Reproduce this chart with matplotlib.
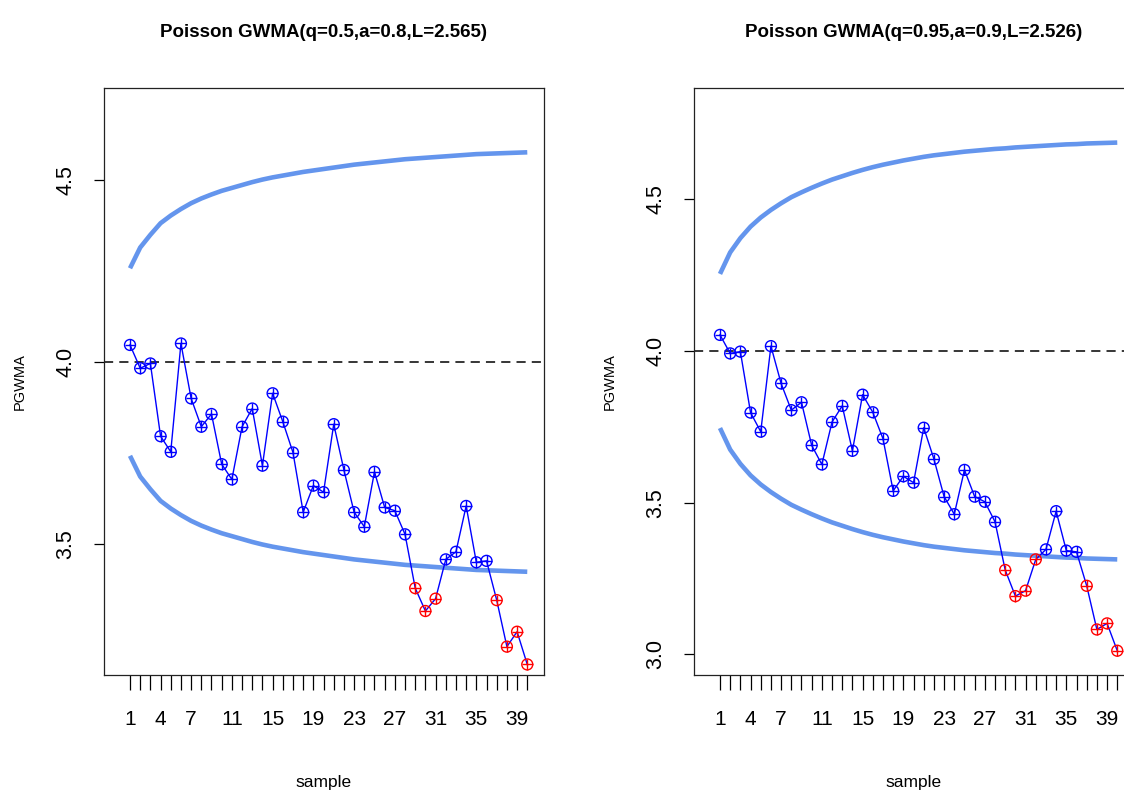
import matplotlib
matplotlib.use("Agg")
import matplotlib.pyplot as plt

plt.rcParams["font.family"] = ["Liberation Sans", "DejaVu Sans"]

# data
samples = list(range(1, 41))
shown_ticks = [1, 4, 7, 11, 15, 19, 23, 27, 31, 35, 39]
center = 4.0

left_title = "Poisson GWMA(q=0.5,a=0.8,L=2.565)"
left_vals = [4.047, 3.983, 3.996, 3.796, 3.753, 4.051, 3.900, 3.822, 3.857, 3.719,
             3.677, 3.822, 3.872, 3.715, 3.914, 3.836, 3.751, 3.587, 3.660, 3.642,
             3.829, 3.703, 3.587, 3.547, 3.698, 3.600, 3.591, 3.526, 3.378, 3.315,
             3.349, 3.457, 3.478, 3.604, 3.449, 3.453, 3.345, 3.217, 3.258, 3.168]
left_ucl = [4.258, 4.315, 4.350, 4.382, 4.403, 4.421, 4.437, 4.450, 4.461, 4.471,
            4.479, 4.487, 4.495, 4.502, 4.508, 4.513, 4.518, 4.523, 4.527, 4.531,
            4.535, 4.539, 4.543, 4.546, 4.549, 4.552, 4.555, 4.558, 4.560, 4.562,
            4.564, 4.566, 4.568, 4.570, 4.572, 4.573, 4.574, 4.575, 4.576, 4.577]
left_lcl = [3.742, 3.685, 3.650, 3.618, 3.597, 3.579, 3.563, 3.550, 3.539, 3.529,
            3.521, 3.513, 3.505, 3.498, 3.492, 3.487, 3.482, 3.477, 3.473, 3.469,
            3.465, 3.461, 3.457, 3.454, 3.451, 3.448, 3.445, 3.442, 3.440, 3.438,
            3.436, 3.434, 3.432, 3.430, 3.428, 3.427, 3.426, 3.425, 3.424, 3.423]
left_yticks = [3.5, 4.0, 4.5]

right_title = "Poisson GWMA(q=0.95,a=0.9,L=2.526)"
right_vals = [4.053, 3.992, 3.998, 3.797, 3.734, 4.016, 3.893, 3.805, 3.831, 3.689,
              3.626, 3.766, 3.819, 3.671, 3.856, 3.798, 3.711, 3.539, 3.587, 3.566,
              3.747, 3.644, 3.520, 3.462, 3.608, 3.520, 3.503, 3.437, 3.278, 3.192,
              3.210, 3.313, 3.346, 3.472, 3.342, 3.338, 3.226, 3.082, 3.102, 3.012]
right_ucl = [4.254, 4.325, 4.372, 4.410, 4.440, 4.465, 4.487, 4.507, 4.523, 4.538,
             4.552, 4.565, 4.576, 4.587, 4.597, 4.606, 4.614, 4.621, 4.628, 4.634,
             4.640, 4.645, 4.649, 4.653, 4.657, 4.660, 4.663, 4.666, 4.668, 4.671,
             4.673, 4.675, 4.677, 4.679, 4.681, 4.682, 4.684, 4.685, 4.686, 4.687]
right_lcl = [3.746, 3.675, 3.628, 3.590, 3.560, 3.535, 3.513, 3.493, 3.477, 3.462,
             3.448, 3.435, 3.424, 3.413, 3.403, 3.394, 3.386, 3.379, 3.372, 3.366,
             3.360, 3.355, 3.351, 3.347, 3.343, 3.340, 3.337, 3.334, 3.332, 3.329,
             3.327, 3.325, 3.323, 3.321, 3.319, 3.318, 3.316, 3.315, 3.314, 3.313]
right_yticks = [3.0, 3.5, 4.0, 4.5]


def gwma_panel(ax, title, vals, ucl, lcl, yticks, ylim):
    ax.plot(samples, ucl, color="#6495ED", lw=3.3, solid_capstyle="butt", zorder=2)
    ax.plot(samples, lcl, color="#6495ED", lw=3.3, solid_capstyle="butt", zorder=2)
    ax.axhline(center, color="black", lw=1.1, linestyle=(0, (6, 4)), zorder=1)
    ax.plot(samples, vals, color="#0000FF", lw=1.0, zorder=3)
    cols = ["#FF0000" if (v > u or v < l) else "#0000FF"
            for v, u, l in zip(vals, ucl, lcl)]
    ax.scatter(samples, vals, s=62, facecolors="none", edgecolors=cols,
               linewidths=1.0, zorder=4)
    ax.scatter(samples, vals, s=62, marker="+", c=cols, linewidths=1.0, zorder=4)

    ax.set_xlim(-1.6, 41.6)
    ax.set_ylim(*ylim)
    ax.set_xticks(samples)
    ax.set_xticklabels([str(s) if s in shown_ticks else "" for s in samples],
                       fontsize=15)
    ax.set_yticks(yticks)
    ax.set_yticklabels(["%.1f" % t for t in yticks], fontsize=15.5,
                       rotation=90, va="center")
    ax.tick_params(axis="x", length=11, width=0.9, pad=14)
    ax.tick_params(axis="y", length=7.5, width=0.9, pad=12)
    for sp in ax.spines.values():
        sp.set_linewidth(0.9)
        sp.set_color("#222222")
    ax.set_xlabel("sample", fontsize=12.5, va="center")
    ax.xaxis.set_label_coords(0.5, -0.184)
    ax.set_ylabel("PGWMA", fontsize=10.5, va="center")
    ax.yaxis.set_label_coords(-0.191, 0.5)
    ax.set_title(title, fontsize=13.5, fontweight="bold",
                 pad=0, y=1.0945, va="center")


fig = plt.figure(figsize=(11.24, 7.94), dpi=100)
ax1 = fig.add_axes([0.0921, 0.1499, 0.3915, 0.7393])
ax2 = fig.add_axes([0.6170, 0.1499, 0.3915, 0.7393])
gwma_panel(ax1, left_title, left_vals, left_ucl, left_lcl, left_yticks, (3.139, 4.754))
gwma_panel(ax2, right_title, right_vals, right_ucl, right_lcl, right_yticks, (2.932, 4.867))

fig.savefig("out.png", dpi=100)
